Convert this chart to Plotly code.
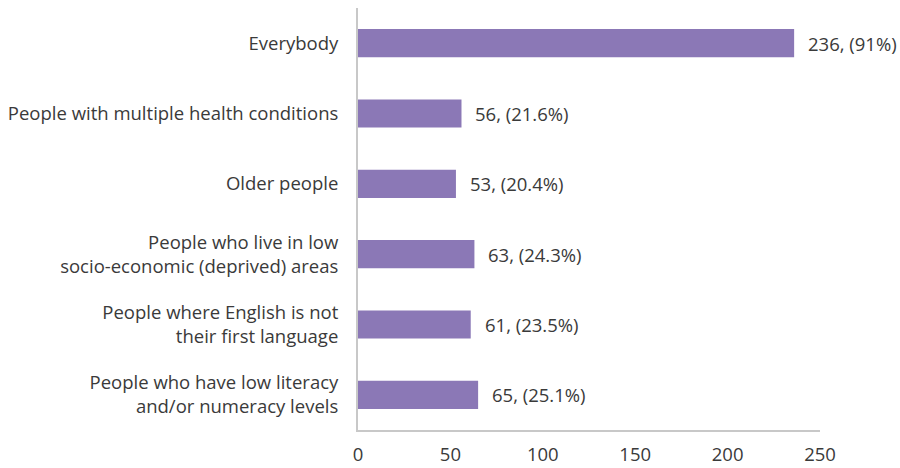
import plotly.graph_objects as go

categories = [
    "Everybody",
    "People with multiple health conditions",
    "Older people",
    "People who live in low<br>socio-economic (deprived) areas",
    "People where English is not<br>their first language",
    "People who have low literacy<br>and/or numeracy levels",
]
counts = [236, 56, 53, 63, 61, 65]
percents = ["91%", "21.6%", "20.4%", "24.3%", "23.5%", "25.1%"]
x_ticks = [0, 50, 100, 150, 200, 250]

BAR_COLOR = "#8B78B6"
TEXT_COLOR = "#3a3a3a"
FONT = "Open Sans"
FS = 18.5

fig = go.Figure()
fig.add_trace(go.Bar(
    x=counts, y=categories, orientation="h",
    marker=dict(color=BAR_COLOR, line=dict(width=0)),
    hoverinfo="skip",
))

for c, v, p in zip(categories, counts, percents):
    fig.add_annotation(
        x=v, y=c, text=f"{v}, ({p})", showarrow=False,
        xanchor="left", xshift=12,
        font=dict(family=FONT, size=FS, color=TEXT_COLOR),
    )

fig.update_layout(
    width=900, height=468,
    margin=dict(l=358, r=80, t=8, b=38, autoexpand=False),
    paper_bgcolor="white", plot_bgcolor="white",
    showlegend=False,
    bargap=0.6,
    font=dict(family=FONT, size=FS, color=TEXT_COLOR),
)
fig.update_xaxes(
    range=[0, 250], tickvals=x_ticks, showgrid=False, zeroline=False,
    showline=True, linecolor="#c8c8c8", linewidth=2,
    ticks="", ticklabelstandoff=7, automargin=False,
    tickfont=dict(family=FONT, size=FS, color=TEXT_COLOR),
)
fig.update_yaxes(
    categoryorder="array", categoryarray=categories, autorange="reversed",
    showgrid=False, zeroline=False,
    showline=True, linecolor="#c8c8c8", linewidth=2,
    ticks="", ticklabelstandoff=14, automargin=False,
    tickfont=dict(family=FONT, size=FS, color=TEXT_COLOR),
)

fig.write_html(
    "out.html",
    config={"displayModeBar": False},
    post_script="document.body.style.margin='0';document.body.style.overflow='hidden';",
)
